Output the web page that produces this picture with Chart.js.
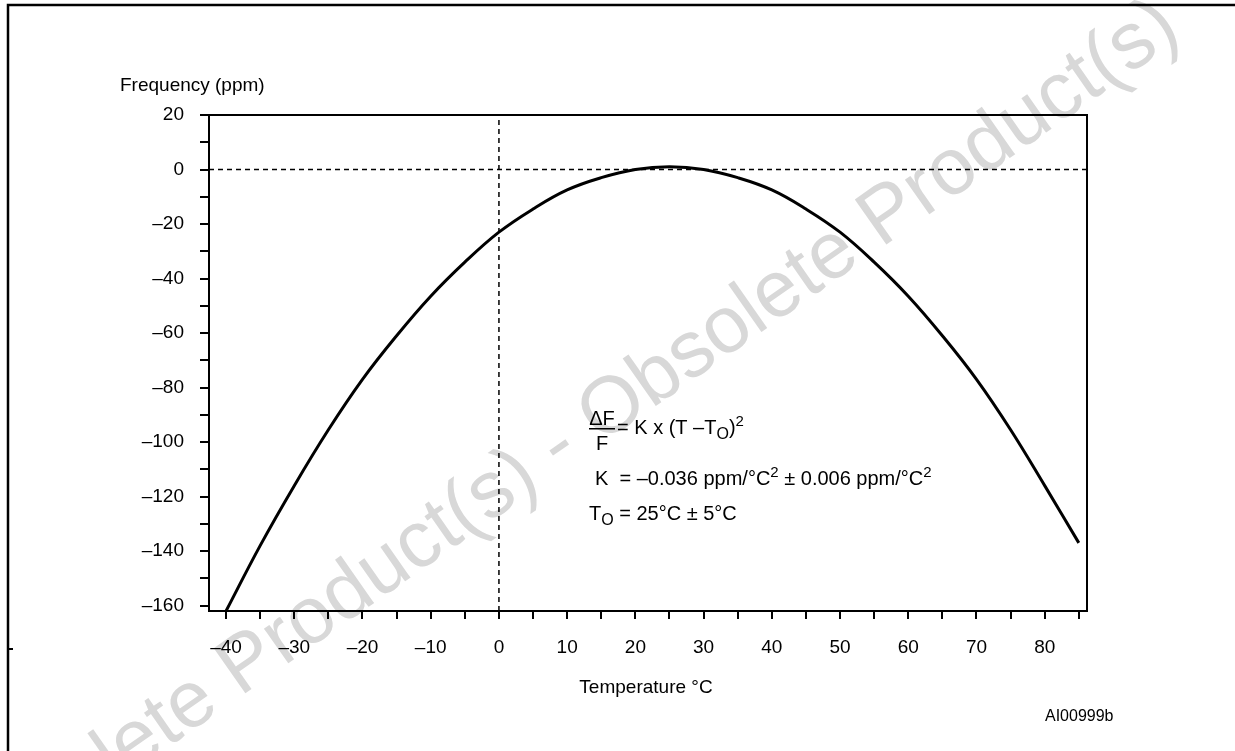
<!DOCTYPE html>
<html lang="en">
<head>
<meta charset="UTF-8">
<title>Frequency vs Temperature</title>
<script src="https://cdn.jsdelivr.net/npm/chart.js"></script>
<style>
    body { margin: 0; background: #fff; }
    #wrap { width: 1235px; height: 751px; }
</style>
</head>
<body>
<div id="wrap"><canvas id="freqChart" width="1235" height="751"></canvas></div>
<script>
// curve, every 5 °C
const temps = [-40, -35, -30, -25, -20, -15, -10, -5, 0, 5, 10, 15, 20,
               25, 30, 35, 40, 45, 50, 55, 60, 65, 70, 75, 80, 85];
const freqPpm = [-162, -138, -116, -95.5, -77, -61, -46.5, -34, -23, -14.5, -7.5, -3, 0,
                 1, 0, -3, -7.5, -14.5, -23, -34, -46.5, -61, -77, -95.5, -116, -137];

const xRange = [-42.5, 86.2];
const yRange = [-162, 20];
const xStep = 5, xLabelEvery = 10;
const yStep = 10, yLabelEvery = 20;

const FONT = '"Liberation Sans", Arial, Helvetica, sans-serif';

function fmt(v) {
    return v < 0 ? '\u2013' + Math.abs(v) : String(v);
}

function drawRuns(ctx, x, y, runs) {
    runs.forEach(r => {
        ctx.font = (r.size || 20) + 'px ' + FONT;
        ctx.fillText(r.t, x, y + (r.dy || 0));
        x += ctx.measureText(r.t).width;
    });
}

const pagePlugin = {
    id: 'page',
    beforeDraw(chart) {
        const ctx = chart.ctx;
        ctx.save();
        ctx.fillStyle = '#fff';
        ctx.fillRect(0, 0, chart.width, chart.height);

        // watermark
        ctx.translate(240, 697);
        ctx.rotate(-35 * Math.PI / 180);
        ctx.font = '80px ' + FONT;
        ctx.fillStyle = '#d8d8d8';
        ctx.textBaseline = 'alphabetic';
        const lead = ctx.measureText('Obsolete ').width;
        ctx.fillText('Obsolete Product(s) - Obsolete Product(s)', -lead, 0);
        ctx.restore();

        // figure frame
        ctx.save();
        ctx.strokeStyle = '#000';
        ctx.lineWidth = 2.5;
        ctx.strokeRect(8, 5, 1400, 900);
        ctx.fillStyle = '#000';
        ctx.fillRect(9, 648, 4, 2);
        ctx.restore();
    },
    afterDatasetsDraw(chart) {
        const ctx = chart.ctx;
        const a = chart.chartArea;
        ctx.save();
        ctx.strokeStyle = '#000';
        ctx.lineWidth = 2;
        ctx.strokeRect(a.left, a.top, a.right - a.left, a.bottom - a.top);

        ctx.fillStyle = '#000';
        ctx.textBaseline = 'middle';
        ctx.textAlign = 'left';
        ctx.font = '19px ' + FONT;
        ctx.fillText('Frequency (ppm)', 120, 86);
        ctx.textAlign = 'center';
        ctx.fillText('Temperature \u00B0C', 646, 688);
        ctx.font = '16px ' + FONT;
        ctx.textAlign = 'left';
        ctx.fillText('AI00999b', 1045, 717);

        // formula block
        ctx.textBaseline = 'alphabetic';
        ctx.textAlign = 'center';
        ctx.font = '20px ' + FONT;
        ctx.fillText('\u0394F', 602, 425);
        ctx.fillText('F', 602, 450);
        ctx.fillRect(589, 428, 26, 1.5);
        ctx.textAlign = 'left';
        drawRuns(ctx, 617, 434, [
            { t: '= K x (T \u2013T' },
            { t: 'O', size: 16, dy: 5 },
            { t: ')' },
            { t: '2', size: 15, dy: -8 }
        ]);
        drawRuns(ctx, 595, 485, [
            { t: 'K  = \u20130.036 ppm/\u00B0C' },
            { t: '2', size: 15, dy: -8 },
            { t: ' \u00B1 0.006 ppm/\u00B0C' },
            { t: '2', size: 15, dy: -8 }
        ]);
        drawRuns(ctx, 589, 520, [
            { t: 'T' },
            { t: 'O', size: 16, dy: 5 },
            { t: ' = 25\u00B0C \u00B1 5\u00B0C' }
        ]);
        ctx.restore();
    }
};

const ctx = document.getElementById('freqChart').getContext('2d');

new Chart(ctx, {
    type: 'line',
    data: {
        datasets: [
            {
                data: temps.map((t, i) => ({ x: t, y: freqPpm[i] })),
                borderColor: '#000',
                borderWidth: 3,
                pointRadius: 0,
                tension: 0.4,
                fill: false
            },
            {
                data: [{ x: xRange[0], y: 0 }, { x: xRange[1], y: 0 }],
                borderColor: '#000',
                borderWidth: 1.5,
                borderDash: [5, 4],
                pointRadius: 0
            },
            {
                data: [{ x: 0, y: yRange[0] }, { x: 0, y: yRange[1] }],
                borderColor: '#000',
                borderWidth: 1.5,
                borderDash: [5, 4],
                pointRadius: 0
            }
        ]
    },
    options: {
        responsive: false,
        animation: false,
        layout: { padding: { left: 0, top: 115, right: 148, bottom: 40 } },
        plugins: {
            legend: { display: false },
            tooltip: { enabled: false }
        },
        scales: {
            x: {
                type: 'linear',
                min: xRange[0],
                max: xRange[1],
                afterFit: s => { s.height = 100; },
                border: { display: true, color: '#000', width: 2 },
                grid: { drawOnChartArea: false, drawTicks: true, tickLength: 8, color: '#000', lineWidth: 2 },
                ticks: {
                    stepSize: xStep,
                    includeBounds: false,
                    autoSkip: false,
                    maxRotation: 0,
                    padding: 17,
                    color: '#000',
                    font: { family: FONT, size: 19 },
                    callback: v => (v % xLabelEvery === 0 ? fmt(v) : '')
                }
            },
            y: {
                type: 'linear',
                min: yRange[0],
                max: yRange[1],
                afterFit: s => { s.width = 209; },
                border: { display: true, color: '#000', width: 2 },
                grid: { drawOnChartArea: false, drawTicks: true, tickLength: 9, color: '#000', lineWidth: 2 },
                ticks: {
                    stepSize: yStep,
                    includeBounds: false,
                    autoSkip: false,
                    padding: 16,
                    color: '#000',
                    font: { family: FONT, size: 19 },
                    callback: v => (v % yLabelEvery === 0 ? fmt(v) : '')
                }
            }
        }
    },
    plugins: [pagePlugin]
});
</script>
</body>
</html>
